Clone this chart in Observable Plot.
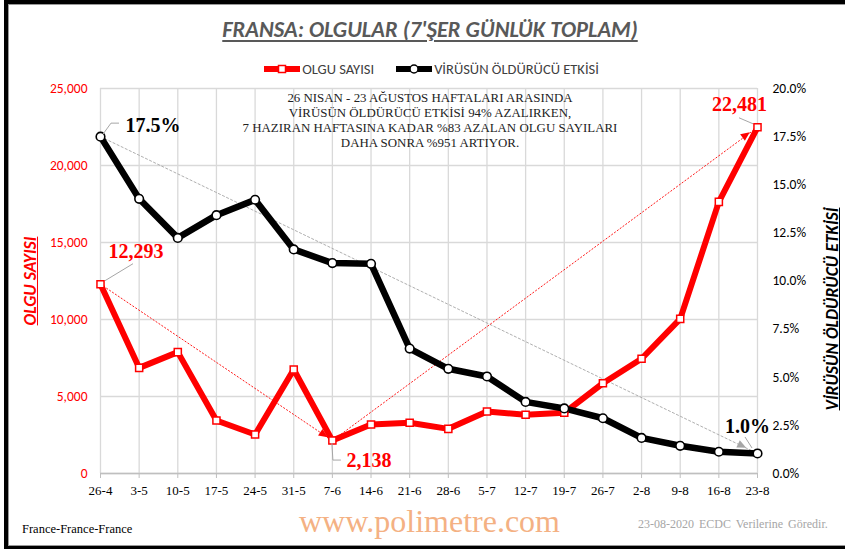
<!DOCTYPE html>
<html><head><meta charset="utf-8">
<script src="https://cdn.jsdelivr.net/npm/d3@7"></script>
<script src="https://cdn.jsdelivr.net/npm/@observablehq/plot@0.6"></script>
<style>
body{margin:0;background:#fff}
#wrap{position:relative;width:845px;height:549px;overflow:hidden;font-family:Carlito,Calibri,Lato,sans-serif;background:#fff}
#frame{position:absolute;left:4px;top:0;width:900px;height:549px;box-sizing:border-box;border-left:4px solid #000;border-top:4px solid #000;border-bottom:3px solid #000;box-shadow:inset 0 1px 0 #999,inset 0 -1px 0 #999,inset 1px 0 0 #999;pointer-events:none;z-index:5}
#title{position:absolute;left:0;width:860px;top:16px;text-align:center;font-weight:bold;font-style:italic;font-size:22.5px;color:#595959;text-decoration:underline;text-underline-offset:3px;text-decoration-thickness:1.5px}
#legend{position:absolute;left:0;width:863px;top:60px;display:flex;justify-content:center;gap:22px;font-size:14.5px;color:#404040}
#legend span{display:flex;align-items:center;gap:2px}
#chart{position:absolute;left:0;top:80px;width:845px}
#chart svg{max-width:none}
.ytitle{position:absolute;font-weight:bold;font-style:italic;font-size:17.5px;text-decoration:underline;white-space:nowrap;transform:translate(-50%,-50%) rotate(-90deg)}
#note{position:absolute;left:230px;width:400px;top:91px;font-family:"Liberation Serif","Times New Roman",serif;font-size:12.9px;line-height:15px;text-align:center;color:#222}
.foot{position:absolute;font-family:"Liberation Serif","Times New Roman",serif;white-space:nowrap}
</style></head>
<body><div id="wrap">
<div id="frame"></div>
<div id="title">FRANSA: OLGULAR (7'ŞER GÜNLÜK TOPLAM)</div>
<div id="legend"></div>
<div id="chart"></div>
<div class="ytitle" id="ylt" style="left:30px;top:281px;color:#ff0000">OLGU SAYISI</div>
<div class="ytitle" id="yrt" style="left:832px;top:309px;color:#000">VİRÜSÜN ÖLDÜRÜCÜ ETKİSİ</div>
<div id="note"></div>
<div class="foot" style="left:22px;top:522px;font-size:12.5px;color:#000">France-France-France</div>
<div class="foot" style="left:299px;top:503px;font-size:32px;color:#f4b183">www.polimetre.com</div>
<div class="foot" style="left:638px;top:517px;font-size:12px;color:#a6a6a6;word-spacing:2px">23-08-2020 ECDC Verilerine Göredir.</div>
</div>
<script>
// ---- data ----
const weeks = ["26-4","3-5","10-5","17-5","24-5","31-5","7-6","14-6","21-6","28-6","5-7","12-7","19-7","26-7","2-8","9-8","16-8","23-8"];
const cases = [12293, 6860, 7880, 3440, 2530, 6750, 2138, 3180, 3300, 2900, 4030, 3810, 3940, 5860, 7450, 10040, 17640, 22481];
const lethality = [17.5, 14.27, 12.24, 13.42, 14.22, 11.64, 10.93, 10.89, 6.49, 5.44, 5.04, 3.72, 3.38, 2.87, 1.85, 1.44, 1.13, 1.04];
const caseTicks = [0, 5000, 10000, 15000, 20000, 25000];
const pctTicks = [0, 2.5, 5, 7.5, 10, 12.5, 15, 17.5, 20];
const seriesNames = ["OLGU SAYISI", "VİRÜSÜN ÖLDÜRÜCÜ ETKİSİ"];
const noteLines = [
  "26 NISAN - 23 AĞUSTOS HAFTALARI ARASINDA",
  "VİRÜSÜN ÖLDÜRÜCÜ ETKİSİ 94% AZALIRKEN,",
  "7 HAZIRAN HAFTASINA KADAR %83 AZALAN OLGU SAYILARI",
  "DAHA SONRA %951 ARTIYOR."
];
const labelPoints = [
  {series:"pct", i:0}, {series:"cases", i:0}, {series:"cases", i:6},
  {series:"cases", i:17}, {series:"pct", i:17}
];
const trendArrows = [
  {series:"pct", from:0, to:17},
  {series:"cases", from:0, to:6},
  {series:"cases", from:6, to:17}
];

// ---- derived ----
const caseMax = 25000, pctMax = 20, k = caseMax / pctMax;
const rows = weeks.map((w, i) => ({week: w, cases: cases[i], pctY: lethality[i] * k}));
const yOf = (s, i) => s === "cases" ? cases[i] : lethality[i] * k;
const colorOf = s => s === "cases" ? "#ff0000" : "#000";
const fmtCases = d3.format(",");
const textOf = (s, i) => s === "cases" ? fmtCases(cases[i]) : lethality[i].toFixed(1) + "%";

// label style offsets (pixels)
const labelStyle = [
  {dx:25, dy:-11, anchor:"start"},
  {dx:8, dy:-33, anchor:"start"},
  {dx:14, dy:20, anchor:"start"},
  {dx:-18, dy:-23, anchor:"middle"},
  {dx:-10, dy:-27, anchor:"middle"}
];
const leaderStyle = [
  [[3,-2],[11,-13],[19,-13]],
  [[5,-3],[33,-20]],
  [[0,3],[1,20],[9,20]],
  [[-4,-3],[-18,-9]],
  [[-5,-5],[-12,-16]]
];
const arrowStyle = [
  {color:"#a6a6a6", inset:12, dash:"3,1.5", width:0.9},
  {color:"#ff0000", inset:5, dash:"2,1.5", width:0.9},
  {color:"#ff0000", inset:9, dash:"2,1.5", width:0.9}
];

const labelMarks = labelPoints.map((p, j) => Plot.text([p], {
  x: d => weeks[d.i], y: d => yOf(d.series, d.i), text: d => textOf(d.series, d.i),
  dx: labelStyle[j].dx, dy: labelStyle[j].dy, textAnchor: labelStyle[j].anchor,
  fill: colorOf(p.series), fontFamily: "Liberation Serif, Times New Roman, serif",
  fontWeight: "bold", fontSize: 20
}));
const arrowMarks = trendArrows.map((a, j) => Plot.link([a], {
  x1: d => weeks[d.from], y1: d => yOf(d.series, d.from),
  x2: d => weeks[d.to], y2: d => yOf(d.series, d.to),
  stroke: arrowStyle[j].color, strokeWidth: arrowStyle[j].width, strokeDasharray: arrowStyle[j].dash
}));

const plot = Plot.plot({
  width: 845, height: 420,
  marginTop: 8, marginBottom: 27, marginLeft: 100, marginRight: 88,
  style: {fontFamily: "Carlito, Calibri, Lato, sans-serif", background: "transparent", overflow: "visible"},
  x: {type: "point", domain: weeks, padding: 0, round: false},
  y: {domain: [0, caseMax]},
  marks: [
    Plot.ruleX(weeks, {y1: 0, y2: caseMax, stroke: "#d9d9d9", strokeWidth: 1.3}),
    Plot.ruleY(caseTicks, {stroke: "#d9d9d9", strokeWidth: 1.3}),
    Plot.ruleY([0], {stroke: "#bfbfbf", strokeWidth: 1.3}),
    Plot.axisX({tickSize: 5, stroke: "#bfbfbf", tickPadding: 7, fill: "#000",
      fontFamily: "Liberation Serif, Times New Roman, serif", fontSize: 13, label: null}),
    Plot.axisY(caseTicks, {anchor: "left", tickSize: 0, tickPadding: 13, tickFormat: fmtCases,
      fill: "#ff0000", fontSize: 13.5, label: null}),
    Plot.axisY(pctTicks.map(p => p * k), {anchor: "right", tickSize: 0, tickPadding: 15,
      tickFormat: d => (d / k).toFixed(1) + "%", fill: "#000", fontSize: 13.5, label: null}),
    ...arrowMarks,
    Plot.line(rows, {x: "week", y: "cases", stroke: "#ff0000", strokeWidth: 6, strokeLinejoin: "round"}),
    Plot.line(rows, {x: "week", y: "pctY", stroke: "#000", strokeWidth: 6.5, strokeLinejoin: "round"}),
    Plot.dot(rows, {x: "week", y: "cases", symbol: "square", r: 4, fill: "#fff", stroke: "#ff0000", strokeWidth: 1.5}),
    Plot.dot(rows, {x: "week", y: "pctY", r: 4.3, fill: "#fff", stroke: "#000", strokeWidth: 1.6}),
    ...labelMarks
  ]
});
document.getElementById("chart").appendChild(plot);

// arrow heads and leader lines, positioned via the plot's own scales
const sx = plot.scale("x"), sy = plot.scale("y");
const px = v => sx.apply(v), py = v => sy.apply(v);
const svg = d3.select(plot);
const g = svg.append("g");
trendArrows.forEach((a, j) => {
  const x1 = px(weeks[a.from]), y1 = py(yOf(a.series, a.from));
  const x2 = px(weeks[a.to]), y2 = py(yOf(a.series, a.to));
  const L = Math.hypot(x2 - x1, y2 - y1), ux = (x2 - x1) / L, uy = (y2 - y1) / L;
  const st = arrowStyle[j];
  const tx = x2 - ux * st.inset, ty = y2 - uy * st.inset;
  const bx = tx - ux * 9, by = ty - uy * 9;
  const w = 4;
  g.append("polygon")
    .attr("points", [[tx, ty], [bx - uy * w, by + ux * w], [bx + uy * w, by - ux * w]].map(p => p.join(",")).join(" "))
    .attr("fill", st.color);
});
labelPoints.forEach((p, j) => {
  const x0 = px(weeks[p.i]), y0 = py(yOf(p.series, p.i));
  g.append("polyline")
    .attr("points", leaderStyle[j].map(o => (x0 + o[0]) + "," + (y0 + o[1])).join(" "))
    .attr("fill", "none").attr("stroke", "#a6a6a6").attr("stroke-width", 1);
});

// legend
const legend = d3.select("#legend");
seriesNames.forEach((name, j) => {
  const s = legend.append("span");
  const sv = s.append("svg").attr("width", 36).attr("height", 12);
  const c = j === 0 ? "#ff0000" : "#000";
  sv.append("line").attr("x1", 1).attr("x2", 35).attr("y1", 6).attr("y2", 6).attr("stroke", c).attr("stroke-width", 6).attr("stroke-linecap", "round");
  if (j === 0) sv.append("rect").attr("x", 14.5).attr("y", 2.5).attr("width", 7).attr("height", 7).attr("fill", "#fff").attr("stroke", c).attr("stroke-width", 1.5);
  else sv.append("circle").attr("cx", 18).attr("cy", 6).attr("r", 4).attr("fill", "#fff").attr("stroke", c).attr("stroke-width", 1.5);
  s.append("span").text(name);
});
// note
d3.select("#note").selectAll("div").data(noteLines).join("div").text(d => d);
</script>
</body></html>
